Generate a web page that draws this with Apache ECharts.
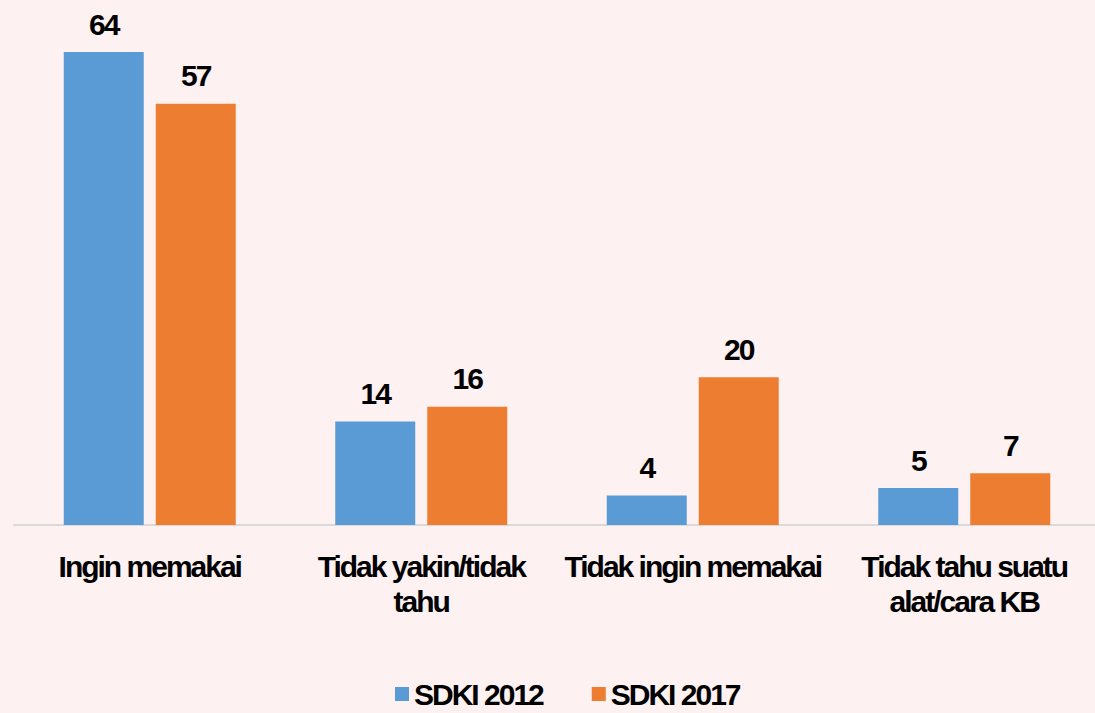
<!DOCTYPE html>
<html>
<head>
<meta charset="utf-8">
<script src="https://cdn.jsdelivr.net/npm/echarts@6/dist/echarts.min.js"></script>
<style>
  html, body { margin: 0; padding: 0; background: #FDF1F1; overflow: hidden; }
  /* the axis runs past the right edge in the original */
  #chart { width: 1110px; height: 713px; }
  /* the original labels are tightly spaced */
  #chart svg text { letter-spacing: -2px; }
</style>
</head>
<body>
<div id="chart"></div>
<script>
var categories = ['Ingin memakai', 'Tidak yakin/tidak\ntahu', 'Tidak ingin memakai', 'Tidak tahu suatu\nalat/cara KB'];
var sdki2012 = [64, 14, 4, 5];
var sdki2017 = [57, 16, 20, 7];

var font = "'Liberation Sans', Arial, sans-serif";

var chart = echarts.init(document.getElementById('chart'), null, { renderer: 'svg' });

chart.setOption({
  backgroundColor: '#FDF1F1',
  animation: false,
  grid: { left: 14, width: 1086, top: 52, height: 473 },
  legend: {
    top: 679,
    left: 395,
    padding: 0,
    itemWidth: 14,
    itemHeight: 14,
    itemGap: 31,
    icon: 'rect',
    textStyle: { fontFamily: font, fontWeight: 'bold', fontSize: 30, color: '#000' }
  },
  xAxis: {
    type: 'category',
    data: categories,
    axisLine: { lineStyle: { color: '#D9D9D9', width: 2 } },
    axisTick: { show: false },
    axisLabel: {
      interval: 0,
      margin: 24,
      fontFamily: font,
      fontWeight: 'bold',
      fontSize: 30,
      lineHeight: 35,
      color: '#000'
    }
  },
  yAxis: {
    type: 'value',
    min: 0,
    max: 64,
    show: false
  },
  series: [
    {
      name: 'SDKI 2012',
      type: 'bar',
      data: sdki2012,
      barWidth: 80,
      barGap: '15%',
      itemStyle: { color: '#5B9BD5' },
      label: { show: true, position: 'top', distance: 13, fontFamily: font, fontWeight: 'bold', fontSize: 30, color: '#000' }
    },
    {
      name: 'SDKI 2017',
      type: 'bar',
      data: sdki2017,
      barWidth: 80,
      barGap: '15%',
      itemStyle: { color: '#ED7D31' },
      label: { show: true, position: 'top', distance: 13, fontFamily: font, fontWeight: 'bold', fontSize: 30, color: '#000' }
    }
  ]
});
</script>
</body>
</html>
